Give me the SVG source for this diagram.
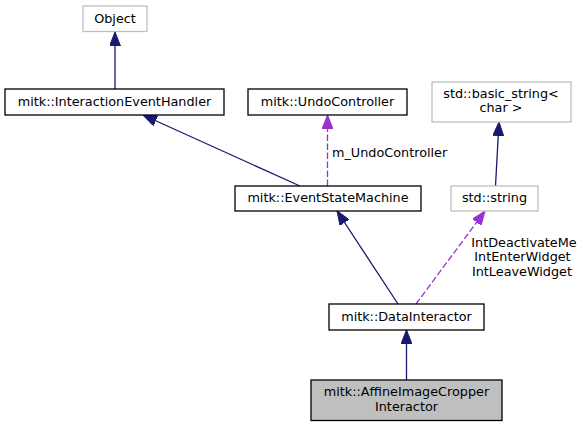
<svg xmlns="http://www.w3.org/2000/svg" width="584" height="427" viewBox="0 0 584 427">
<style>
text{font-family:"DejaVu Sans","Liberation Sans",sans-serif;font-size:12.8px;fill:#000}
.c{text-anchor:middle}
.b{fill:#fff;stroke:#000;stroke-width:1.3}
.g{fill:#fff;stroke:#bfbfbf;stroke-width:1.3}
.s{fill:#bfbfbf;stroke:#000;stroke-width:1.3}
.inh{fill:none;stroke:#191970;stroke-width:1.3;marker-end:url(#ab)}
.use{fill:none;stroke:#9a32cd;stroke-width:1.3;stroke-dasharray:6.4,2.6;marker-end:url(#ap)}
</style>
<defs>
<marker id="ab" markerUnits="userSpaceOnUse" markerWidth="14" markerHeight="11" viewBox="0 0 14 11" refX="14" refY="5.5" orient="auto">
<path d="M0,0 L14,5.5 L0,11 z" fill="#191970" stroke="#191970" stroke-width="1"/>
</marker>
<marker id="ap" markerUnits="userSpaceOnUse" markerWidth="14" markerHeight="11" viewBox="0 0 14 11" refX="14" refY="5.5" orient="auto">
<path d="M0,0 L14,5.5 L0,11 z" fill="#9a32cd" stroke="#9a32cd" stroke-width="1"/>
</marker>
</defs>
<rect width="584" height="427" fill="#fff"/>
<g id="connectors">
<path class="inh" d="M115,89 L115,32"/>
<path class="inh" d="M300,186 L143,115"/>
<path class="use" d="M327.5,186 L327.5,115"/>
<path class="inh" d="M495.5,186 L499,122"/>
<path class="inh" d="M398,304 L337,211"/>
<path class="use" d="M416,304 L485,211"/>
<path class="inh" d="M406.5,380 L406.5,330"/>
<text x="332" y="157">m_UndoController</text>
<text class="c" x="524" y="246.5">IntDeactivateMe</text>
<text class="c" x="522.5" y="261">IntEnterWidget</text>
<text class="c" x="522" y="275.5">IntLeaveWidget</text>
</g>
<g id="Object">
<rect class="g" x="83" y="6" width="64" height="25.5"/>
<text class="c" x="115" y="22.5">Object</text>
</g>
<g id="InteractionEventHandler">
<rect class="b" x="5" y="89" width="219" height="26"/>
<text class="c" x="114.5" y="105.5">mitk::InteractionEventHandler</text>
</g>
<g id="UndoController">
<rect class="b" x="248" y="89" width="159" height="26"/>
<text class="c" x="327.5" y="105.5">mitk::UndoController</text>
</g>
<g id="basic_string">
<rect class="g" x="432" y="82" width="139" height="40"/>
<text class="c" x="501" y="97.7">std::basic_string&lt;</text>
<text class="c" x="501" y="112.3">char &gt;</text>
</g>
<g id="EventStateMachine">
<rect class="b" x="235" y="186" width="186" height="25"/>
<text class="c" x="328" y="202">mitk::EventStateMachine</text>
</g>
<g id="string">
<rect class="g" x="451" y="186" width="87" height="25"/>
<text class="c" x="494.5" y="202">std::string</text>
</g>
<g id="DataInteractor">
<rect class="b" x="329" y="304" width="155" height="26"/>
<text class="c" x="406.5" y="320.5">mitk::DataInteractor</text>
</g>
<g id="AffineImageCropperInteractor">
<rect class="s" x="311" y="380" width="191" height="40.5"/>
<text class="c" x="406.5" y="396">mitk::AffineImageCropper</text>
<text class="c" x="406.5" y="410.7">Interactor</text>
</g>
</svg>
